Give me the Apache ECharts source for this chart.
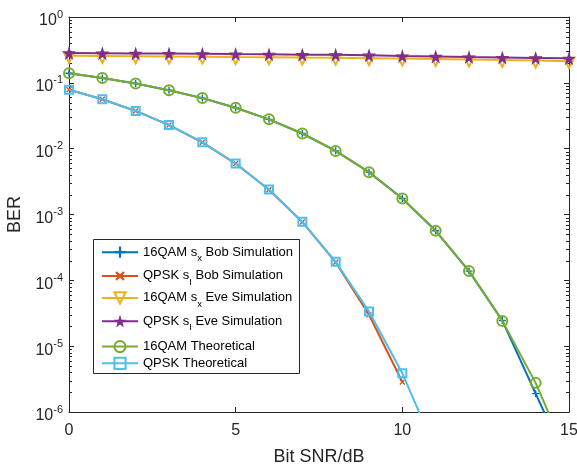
<!DOCTYPE html>
<html>
<head>
<meta charset="utf-8">
<script src="https://cdn.jsdelivr.net/npm/echarts@6/dist/echarts.min.js"></script>
<style>
  html, body { margin: 0; padding: 0; background: #fff; }
  #chart { width: 577px; height: 466px; }
</style>
</head>
<body>
<div id="chart"></div>
<script>
// Bit SNR in dB
const snr = [0, 1, 2, 3, 4, 5, 6, 7, 8, 9, 10, 11, 12, 13, 14, 15];

// Bit error rates per scheme
const qam16BobSim = [0.140, 0.118, 0.0975, 0.0772, 0.0586, 0.0419, 0.0279, 0.0170, 0.00926, 0.00440, 0.00175, 5.65e-4, 1.38e-4, 2.45e-5, 1.9e-6, 1.5e-7];
const qpskBobSim  = [0.0787, 0.0562, 0.0374, 0.0228, 0.0125, 0.00594, 0.00238, 7.7e-4, 1.88e-4, 3.0e-5, 2.86e-6, null, null, null, null, null];
const qam16EveSim = [0.258, 0.256, 0.254, 0.252, 0.250, 0.247, 0.245, 0.242, 0.240, 0.237, 0.234, 0.230, 0.226, 0.222, 0.218, 0.213];
const qpskEveSim  = [0.284, 0.282, 0.280, 0.278, 0.276, 0.273, 0.271, 0.268, 0.266, 0.263, 0.255, 0.251, 0.246, 0.242, 0.239, 0.236];
const qam16Theory = [0.1396, 0.1183, 0.0976, 0.0774, 0.0586, 0.0419, 0.0279, 0.0170, 0.00925, 0.00439, 0.00175, 5.65e-4, 1.39e-4, 2.42e-5, 2.77e-6, 1.85e-7];
const qpskTheory  = [0.0786, 0.0563, 0.0375, 0.0229, 0.0125, 0.00595, 0.00239, 7.73e-4, 1.91e-4, 3.36e-5, 3.87e-6, 2.61e-7, null, null, null, null];

// Axis ranges and tick labels
const xTicks = [0, 5, 10, 15];
const yMin = 1e-6;
const yMax = 1;

// Legend entries: rich-text label per series
const seriesNames = [
  '16QAM sx Bob Simulation',
  'QPSK sI Bob Simulation',
  '16QAM sx Eve Simulation',
  'QPSK sI Eve Simulation',
  '16QAM Theoretical',
  'QPSK Theoretical'
];
const legendLabels = [
  '{a|16QAM s}{s|x}{a| Bob Simulation}',
  '{a|QPSK s}{s|I}{a| Bob Simulation}',
  '{a|16QAM s}{s|x}{a| Eve Simulation}',
  '{a|QPSK s}{s|I}{a| Eve Simulation}',
  '{a|16QAM Theoretical}',
  '{a|QPSK Theoretical}'
];

const FONT = '"Liberation Sans", Arial, Helvetica, sans-serif';
const AXIS_COLOR = '#262626';
const COLORS = ['#0072BD', '#D95319', '#EDB120', '#7E2F8E', '#77AC30', '#4DBEEE'];

const PLUS = 'path://M4,0 L6,0 L6,4 L10,4 L10,6 L6,6 L6,10 L4,10 L4,6 L0,6 L0,4 L4,4 Z';
const STAR = 'path://M50,0 L61.8,35.1 L98.9,35.1 L69,57.3 L79.4,91.9 L50,70.5 L20.6,91.9 L31,57.3 L1.1,35.1 L38.2,35.1 Z';

function pairs(ys) {
  return snr.map((x, i) => [x, ys[i]]);
}

function lineSeries(idx, ys, symbol, size, itemStyle, extra) {
  return Object.assign({
    name: seriesNames[idx],
    type: 'line',
    data: pairs(ys),
    symbol: symbol,
    symbolSize: size,
    showAllSymbol: true,
    connectNulls: false,
    clip: true,
    lineStyle: { color: COLORS[idx], width: 2 },
    itemStyle: itemStyle,
    emphasis: { disabled: true },
    z: 2 + idx * 0.01
  }, extra || {});
}

// Minor log ticks (2..9 per decade) drawn on the left and right frame edges
const minorTickValues = [];
for (let e = -6; e < 0; e++) {
  for (let m = 2; m <= 9; m++) minorTickValues.push([0, m * Math.pow(10, e)]);
}

const chart = echarts.init(document.getElementById('chart'), null, { renderer: 'canvas' });

const legendRowsY = [252.7, 275, 298.3, 321.7, 345, 361.7];
const legends = seriesNames.map((name, i) => ({
  data: [name],
  left: 101,
  top: legendRowsY[i] - (i < 4 ? 7 : 5),
  orient: 'vertical',
  padding: 0,
  itemGap: 0,
  itemWidth: 36,
  itemHeight: i === 3 ? 16 : 14,
  selectedMode: false,
  formatter: () => legendLabels[i],
  textStyle: {
    fontFamily: FONT,
    fontSize: 13,
    color: '#000',
    rich: {
      a: { fontFamily: FONT, fontSize: 13, color: '#000', verticalAlign: 'middle' },
      s: { fontFamily: FONT, fontSize: 9.5, color: '#000', verticalAlign: 'top', padding: [12, 0, 0, 0] }
    }
  }
}));

const option = {
  animation: false,
  backgroundColor: '#fff',
  grid: { left: 69, top: 17, width: 500, height: 395, containLabel: false, outerBoundsMode: 'none' },
  legend: legends,
  graphic: [{
    type: 'rect',
    shape: { x: 93.5, y: 239.5, width: 206, height: 134 },
    style: { fill: '#fff', stroke: AXIS_COLOR, lineWidth: 1 },
    z: 3
  }],
  xAxis: [{
    type: 'value',
    min: 0, max: 15, interval: 5,
    position: 'bottom',
    name: 'Bit SNR/dB',
    nameLocation: 'middle',
    nameGap: 36,
    nameTextStyle: { fontFamily: FONT, fontSize: 18, color: AXIS_COLOR },
    axisLine: { show: true, onZero: false, lineStyle: { color: AXIS_COLOR, width: 1 } },
    axisTick: { show: true, inside: true, length: 5, lineStyle: { color: AXIS_COLOR } },
    axisLabel: {
      fontFamily: FONT, fontSize: 16, color: AXIS_COLOR, margin: 11,
      formatter: v => (xTicks.indexOf(v) >= 0 ? String(v) : '')
    },
    splitLine: { show: false }
  }, {
    type: 'value',
    min: 0, max: 15, interval: 5,
    position: 'top',
    axisLine: { show: true, onZero: false, lineStyle: { color: AXIS_COLOR, width: 1 } },
    axisTick: { show: true, inside: true, length: 5, lineStyle: { color: AXIS_COLOR } },
    axisLabel: { show: false },
    splitLine: { show: false }
  }],
  yAxis: [{
    type: 'log',
    logBase: 10,
    min: yMin, max: yMax,
    position: 'left',
    name: 'BER',
    nameLocation: 'middle',
    nameGap: 40,
    nameTextStyle: { fontFamily: FONT, fontSize: 18, color: AXIS_COLOR },
    axisLine: { show: true, onZero: false, lineStyle: { color: AXIS_COLOR, width: 1 } },
    axisTick: { show: true, inside: true, length: 5, lineStyle: { color: AXIS_COLOR } },
    axisLabel: {
      margin: 6,
      formatter: v => '{b|10}{s|' + Math.round(Math.log10(v)) + '}',
      rich: {
        b: { fontFamily: FONT, fontSize: 16, color: AXIS_COLOR, verticalAlign: 'bottom' },
        s: { fontFamily: FONT, fontSize: 11, color: AXIS_COLOR, verticalAlign: 'top', padding: [4, 0, 9, 0] }
      }
    },
    splitLine: { show: false }
  }, {
    type: 'log',
    logBase: 10,
    min: yMin, max: yMax,
    position: 'right',
    axisLine: { show: true, onZero: false, lineStyle: { color: AXIS_COLOR, width: 1 } },
    axisTick: { show: true, inside: true, length: 5, lineStyle: { color: AXIS_COLOR } },
    axisLabel: { show: false },
    splitLine: { show: false }
  }],
  series: [
    lineSeries(0, qam16BobSim, PLUS, 7, { color: COLORS[0] }),
    lineSeries(1, qpskBobSim, PLUS, 7, { color: COLORS[1] }, { symbolRotate: 45 }),
    lineSeries(2, qam16EveSim, 'triangle', 10, { color: 'transparent', borderColor: COLORS[2], borderWidth: 2 }, { symbolRotate: 180, symbolOffset: [0, 2] }),
    lineSeries(3, qpskEveSim, STAR, 14, { color: COLORS[3], borderColor: COLORS[3], borderWidth: 0 }),
    lineSeries(4, qam16Theory, 'circle', 10, { color: 'transparent', borderColor: COLORS[4], borderWidth: 2 }),
    lineSeries(5, qpskTheory, 'rect', 8, { color: 'transparent', borderColor: COLORS[5], borderWidth: 2 }),
    {
      name: 'minorTicks',
      type: 'custom',
      silent: true,
      clip: false,
      data: minorTickValues,
      encode: { x: 0, y: 1 },
      renderItem: function (params, api) {
        const p = api.coord([0, api.value(1)]);
        const cs = params.coordSys;
        const y = Math.round(p[1]) + 0.5;
        const style = { stroke: AXIS_COLOR, lineWidth: 1 };
        return {
          type: 'group',
          children: [
            { type: 'line', shape: { x1: cs.x, y1: y, x2: cs.x + 3, y2: y }, style: style },
            { type: 'line', shape: { x1: cs.x + cs.width, y1: y, x2: cs.x + cs.width - 3, y2: y }, style: style }
          ]
        };
      },
      z: 1
    }
  ]
};

chart.setOption(option);
</script>
</body>
</html>
